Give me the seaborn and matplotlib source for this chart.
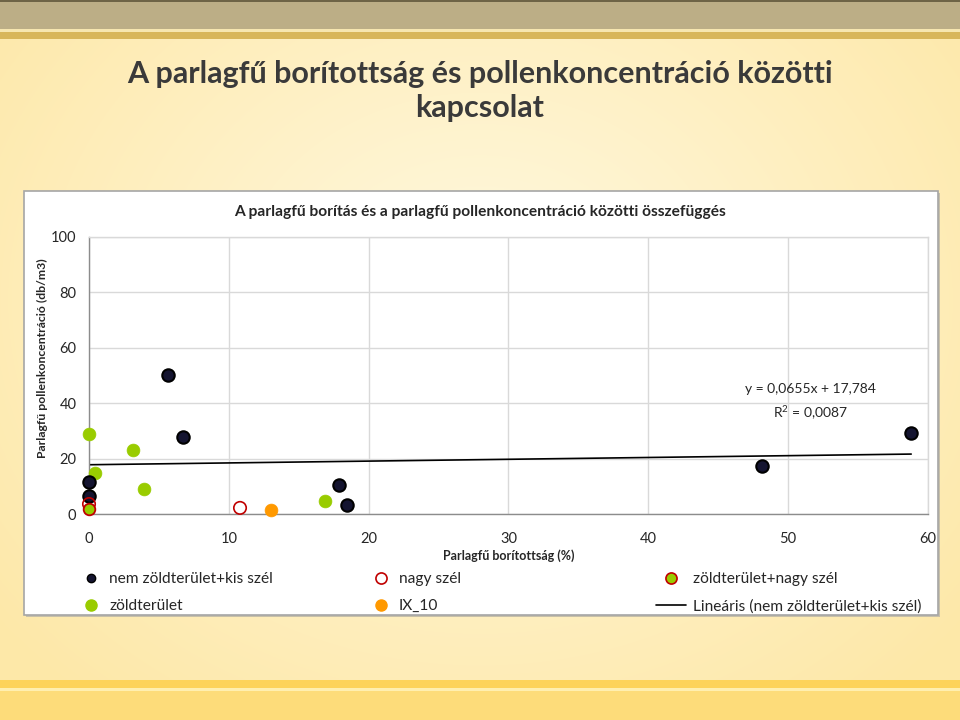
import numpy as np
import pandas as pd
import matplotlib
matplotlib.use("Agg")
import matplotlib.pyplot as plt
from matplotlib.patches import Rectangle
from matplotlib.lines import Line2D
from matplotlib import font_manager
import seaborn as sns

# ---------------- data ----------------
nem_zold_x = [5.65, 6.7, 0.0, 0.0, 17.9, 18.45, 48.1, 58.8]
nem_zold_y = [50.2, 27.8, 11.6, 6.5, 10.5, 3.2, 17.3, 29.2]

zold_x = [0.0, 0.4, 3.15, 3.9, 16.9]
zold_y = [28.9, 14.8, 23.1, 9.0, 4.7]

nagy_szel_x = [0.0, 10.8]
nagy_szel_y = [3.6, 2.2]

ix10_x = [13.0]
ix10_y = [1.4]

zold_nagy_x = [0.0]
zold_nagy_y = [1.8]

trend_slope = 0.0655
trend_intercept = 17.784
trend_x = [0.0, 58.8]

x_ticks = [0, 10, 20, 30, 40, 50, 60]
y_ticks = [0, 20, 40, 60, 80, 100]

main_title = "A parlagfű borítottság és pollenkoncentráció közötti\nkapcsolat"
chart_title = "A parlagfű borítás és a parlagfű pollenkoncentráció közötti összefüggés"
x_label = "Parlagfű borítottság (%)"
y_label = "Parlagfű pollenkoncentráció (db/m3)"
eq_text = "y = 0,0655x + 17,784"
r2_text = "R$^2$ = 0,0087"
legend_labels = ["nem zöldterület+kis szél", "zöldterület", "nagy szél", "IX_10",
                 "zöldterület+nagy szél", "Lineáris (nem zöldterület+kis szél)"]

# ---------------- style ----------------
sns.set_theme(style="white")
available = {f.name for f in font_manager.fontManager.ttflist}
narrow = [f for f in ["Liberation Sans Narrow", "Lato", "Open Sans"] if f in available]
plt.rcParams['font.family'] = narrow + ['DejaVu Sans']
plt.rcParams['mathtext.fontset'] = 'custom'
plt.rcParams['mathtext.rm'] = narrow[0] if narrow else 'DejaVu Sans'

fig = plt.figure(figsize=(9.6, 7.2), dpi=100)

# background
bg = fig.add_axes([0, 0, 1, 1], zorder=-10)
bg.set_axis_off()
yy, xx = np.mgrid[0:720, 0:960]
d = np.sqrt(((xx - 480) / 620.0) ** 2 + ((yy - 300) / 520.0) ** 2)
d = np.clip(d, 0, 1)
c0 = np.array([1.0, 0.975, 0.88])
c1 = np.array([0.995, 0.91, 0.66])
img = c0[None, None, :] * (1 - d[..., None]) + c1[None, None, :] * d[..., None]
bg.imshow(img, extent=[0, 960, 720, 0], aspect='auto')
bg.set_xlim(0, 960)
bg.set_ylim(720, 0)
# top bands
bg.add_patch(Rectangle((0, 0), 960, 29, color="#BCAE86", lw=0))
bg.add_patch(Rectangle((0, 0), 960, 2, color="#6E6446", lw=0))
bg.add_patch(Rectangle((0, 29), 960, 3, color="#F6E6B0", lw=0))
bg.add_patch(Rectangle((0, 32), 960, 7, color="#D8B65A", lw=0))
# bottom bands
bg.add_patch(Rectangle((0, 680), 960, 8, color="#FDD35A", lw=0))
bg.add_patch(Rectangle((0, 688), 960, 3, color="#FFEFB0", lw=0))
bg.add_patch(Rectangle((0, 691), 960, 29, color="#FDDC7A", lw=0))
# chart box
bg.add_patch(Rectangle((26, 193), 914, 424, color="#C8C0A8", lw=0))
bg.add_patch(Rectangle((24, 191), 914, 424, facecolor="white", edgecolor="#A6A6A6", lw=1.2))

fig.text(0.5, 0.874, main_title, ha="center", va="center", fontsize=22,
         fontweight="bold", color="#3A3A3A", linespacing=1.25)
fig.text(0.5, 0.705, chart_title, ha="center", va="center", fontsize=11.2,
         fontweight="bold", color="#262626")

# plot area
ax = fig.add_axes([89/960, 1-514/720, (928-89)/960, (514-237)/720])
ax.set_facecolor("white")

df_nz = pd.DataFrame({"x": nem_zold_x, "y": nem_zold_y})
df_z = pd.DataFrame({"x": zold_x, "y": zold_y})
df_ns = pd.DataFrame({"x": nagy_szel_x, "y": nagy_szel_y})
df_ix = pd.DataFrame({"x": ix10_x, "y": ix10_y})
df_zn = pd.DataFrame({"x": zold_nagy_x, "y": zold_nagy_y})
df_tr = pd.DataFrame({"x": trend_x,
                      "y": [trend_slope * v + trend_intercept for v in trend_x]})

sns.lineplot(data=df_tr, x="x", y="y", ax=ax, color="black", lw=1.2, zorder=2)
sns.scatterplot(data=df_nz, x="x", y="y", ax=ax, color="#141430", edgecolor="black",
                linewidth=1.5, s=80, zorder=4, clip_on=False)
sns.scatterplot(data=df_z, x="x", y="y", ax=ax, color="#99CC00", edgecolor="#99CC00",
                linewidth=0.5, s=85, zorder=3, clip_on=False)
sns.scatterplot(data=df_ns, x="x", y="y", ax=ax, facecolor="none", edgecolor="#C00000",
                linewidth=1.2, s=80, zorder=5, clip_on=False)
sns.scatterplot(data=df_ix, x="x", y="y", ax=ax, color="#FF9900", edgecolor="#FF9900",
                linewidth=0.5, s=85, zorder=3, clip_on=False)
sns.scatterplot(data=df_zn, x="x", y="y", ax=ax, color="#99CC00", edgecolor="#C00000",
                linewidth=1.3, s=70, zorder=6, clip_on=False)

ax.set_xlim(0, 60)
ax.set_ylim(0, 100)
ax.set_xticks(x_ticks)
ax.set_yticks(y_ticks)
ax.grid(True, color="#D9D9D9", lw=1)
ax.set_axisbelow(True)
for side in ["top", "right"]:
    ax.spines[side].set_color("#D9D9D9")
for side in ["left", "bottom"]:
    ax.spines[side].set_color("#8C8C8C")
for sp in ax.spines.values():
    sp.set_linewidth(1)
ax.tick_params(axis="both", length=0, labelsize=10.5, colors="#262626")
ax.tick_params(axis="x", pad=13)
ax.tick_params(axis="y", pad=9)
ax.set_xlabel(x_label, fontsize=9, fontweight="bold", color="#262626", labelpad=2)
ax.set_ylabel(y_label, fontsize=8.8, fontweight="bold", color="#262626")
ax.yaxis.set_label_coords(-0.049, 0.563)

ax.text(51.6, 45.0, eq_text, ha="center", va="center", fontsize=10, color="#262626")
ax.text(51.6, 36.6, r2_text, ha="center", va="center", fontsize=10, color="#262626")

# legend
h_nz = Line2D([], [], ls="none", marker="o", markersize=6, markerfacecolor="#141430",
              markeredgecolor="black")
h_z = Line2D([], [], ls="none", marker="o", markersize=8, markerfacecolor="#99CC00",
             markeredgecolor="#99CC00")
h_ns = Line2D([], [], ls="none", marker="o", markersize=8, markerfacecolor="none",
              markeredgecolor="#C00000", markeredgewidth=1.2)
h_ix = Line2D([], [], ls="none", marker="o", markersize=8, markerfacecolor="#FF9900",
              markeredgecolor="#FF9900")
h_zn = Line2D([], [], ls="none", marker="o", markersize=8, markerfacecolor="#99CC00",
              markeredgecolor="#C00000", markeredgewidth=1.2)
h_tr = Line2D([], [], color="black", lw=1.2)

legend_kw = dict(frameon=False, fontsize=11.2, handletextpad=0.45, labelspacing=0.82,
                 borderaxespad=0, loc="upper left", labelcolor="#262626")
fig.legend([h_nz, h_z], legend_labels[0:2], bbox_to_anchor=(74/960, 1-566/720),
           handlelength=1.4, **legend_kw)
fig.legend([h_ns, h_ix], legend_labels[2:4], bbox_to_anchor=(364/960, 1-566/720),
           handlelength=1.4, **legend_kw)
fig.legend([h_zn, h_tr], legend_labels[4:6], bbox_to_anchor=(650/960, 1-566/720),
           handlelength=1.9, **legend_kw)

fig.savefig("out.png", dpi=100)
